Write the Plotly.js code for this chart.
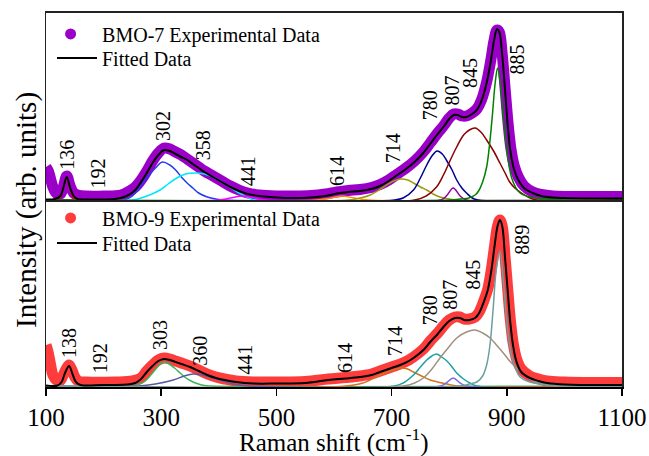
<!DOCTYPE html>
<html><head><meta charset="utf-8">
<script src="https://cdn.plot.ly/plotly-3.0.1.min.js"></script>
<style>html,body{margin:0;padding:0;background:#fff}#chart{width:649px;height:456px}</style>
</head><body><div id="chart"></div>
<script>
// ---------- BMO-7 (top panel) ----------
const bmo7DataX = [100,104,108,112,116,120,125,130,136,142,148,155,170,200,230,245,255,265,275,285,295,305,315,325,335,345,355,365,375,390,405,420,435,450,470,500,530,560,585,605,625,645,665,680,695,710,725,740,755,767,780,790,800,808,815,822,830,840,848,856,865,872,878,883,887,892,897,902,907,913,920,930,945,960,980,1000,1050,1100];
const bmo7DataY = [33,29,21,13,8,6,6,13,24,14,7,5,4,4,5,9,13,20,29,39,47,52,51,48,45,41,37,33,29,24,19,14,10,7,5,4,4,4.5,6,8,9.5,10.5,12.5,15.5,20,26,32,39,48,57,67,74,82,86,86,84,84,87,91,100,118,139,160,170,168,146,112,78,52,34,23,14,8,5.5,4,3.5,3.5,3.5];
const bmo7FitX = [100,115,125,130,136,142,148,155,170,200,220,240,255,265,275,285,295,305,315,325,335,345,355,365,375,390,405,420,435,450,470,500,530,560,585,605,625,645,665,680,695,710,725,740,755,767,780,790,800,808,815,822,830,840,848,856,865,872,878,883,887,892,897,902,907,913,920,930,945,960,980,1000,1050,1100];
const bmo7FitY = [0.5,1,4,12,23,12,4,1,0.5,0.5,1,4,10,18,27,37,45,50,49,46,43,40,36,32,28,23,18,13,9,6,4,2.5,2,2.5,4,6.5,8,9,11,14,19,25,31,38,47,56,66,73,81,85,85,83,83,86,90,99,117,138,160,171,168,145,110,72,46,30,20,12,7,4,2.5,2,1.5,1.5];
const bmo7P136X = [100,120,125,130,136,142,147,152,1100];
const bmo7P136Y = [0,0,3,11,22,11,3,0,0];
const bmo7P302X = [100,235,250,262,275,290,302,315,325,335,345,355,365,380,395,410,1100];
const bmo7P302Y = [0,0,4,12,22,32,38,35,30,23,17,12,7,3,1,0,0];
const bmo7P358X = [100,250,265,280,298,312,327,342,359,375,390,405,419,432,442,452,465,1100];
const bmo7P358Y = [0,0,2,5,10,16,22,26,27,26,23,18,13,8,5,2,0,0];
const bmo7P441X = [100,400,420,441,462,480,1100];
const bmo7P441Y = [0,0,2,4,2,0,0];
const bmo7P614X = [100,570,595,614,635,660,1100];
const bmo7P614Y = [0,0,2,4,2,0,0];
const bmo7P714X = [100,625,645,663,686,700,715,728,738,750,761,772,784,800,815,1100];
const bmo7P714Y = [0,0,2,5,13,18,21,20,17,13,10,6,3,1,0,0];
const bmo7P780X = [100,705,720,738,750,761,770,779,788,795,805,813,822,830,840,850,1100];
const bmo7P780Y = [0,0,2,10,22,35,44,49,46,40,30,20,12,7,2,0,0];
const bmo7P807X = [100,785,795,807,819,830,1100];
const bmo7P807Y = [0,0,4,12,4,0,0];
const bmo7P845X = [100,740,760,778,790,802,813,825,835,845,855,865,877,888,897,905,914,923,937,952,1100];
const bmo7P845Y = [0,0,4,13,25,40,53,65,70,72,68,60,49,37,27,18,12,8,3,0,0];
const bmo7P885X = [100,800,820,834,845,851,858,865,870,875,880,884,889,894,900,904,908,915,923,940,970,1000,1100];
const bmo7P885Y = [0,0,1,2,5,9,18,33,55,85,118,132,115,84,50,34,23,13,7,3,1,0,0];

// ---------- BMO-9 (bottom panel) ----------
const bmo9DataX = [100,104,108,112,118,124,130,135,140,145,150,156,170,220,250,265,275,285,295,305,315,325,335,350,365,380,395,410,430,460,500,550,590,620,645,665,680,700,715,730,745,757,767,780,790,800,810,818,826,835,845,852,860,867,873,879,884,888,892,897,902,906,911,917,925,940,955,970,1000,1050,1100];
const bmo9DataY = [41,33,21,11,6,5,11,17,21,16,9,5,4,4,5,8,15,21,26,28,27,25,23,20,16,12,9,7,5,4,4,4.5,7,8.5,10,12,15,19,22,26,32,38,45,53,60,66,69,69,67,67,69,74,85,97,116,141,160,166,160,129,94,67,43,27,17,10,7,5,4,3.5,3.5];
const bmo9FitX = [100,120,127,133,140,146,152,160,200,240,255,265,275,285,295,305,315,325,335,350,365,380,395,410,430,460,500,550,590,620,645,665,680,700,715,730,745,757,767,780,790,800,810,818,826,835,845,852,860,867,873,879,884,888,892,897,902,906,911,917,925,940,955,970,1000,1100];
const bmo9FitY = [0.5,0.5,4,13,20,12,4,1,1,1.5,3,7,14,20,25,27,26,24,22,19,15,11,8,6,4,2.5,2.5,3,6,7.5,9,11,14,18,21,25,31,37,44,52,59,65,68,68,66,66,68,73,84,96,115,141,160,166,160,128,92,64,40,24,14,8,5,3,1.5,1];
const bmo9P303X = [100,250,262,272,282,292,300,306,314,323,333,343,352,362,375,385,1100];
const bmo9P303Y = [0,0,2,5,11,18,23,24,22,18,13,8,5,2.5,0.5,0,0];
const bmo9P360X = [100,260,290,321,340,356,372,390,408,425,450,1100];
const bmo9P360Y = [0,0,2,6,10,12,11,8,5,2,0,0];
const bmo9P714X = [100,620,650,680,698,715,728,738,752,767,780,796,815,1100];
const bmo9P714Y = [0,0,3,11,15,18,17,14,10,6,4,2,0,0];
const bmo9P780X = [100,705,720,738,750,761,770,778,787,796,805,813,825,836,848,1100];
const bmo9P780Y = [0,0,3,11,19,26,30,32,29,25,19,13,7,3,0,0];
const bmo9P807X = [100,785,795,807,819,830,1100];
const bmo9P807Y = [0,0,3,8,3,0,0];
const bmo9P845X = [100,720,740,755,770,784,798,813,830,845,858,871,882,894,905,917,928,940,955,969,990,1100];
const bmo9P845Y = [0,0,3,8,17,28,38,48,54,56,53,48,41,33,25,18,12,7,3,1,0,0];
const bmo9P889X = [100,820,835,848,858,865,871,876,882,888,894,900,904,908,915,923,940,960,990,1020,1100];
const bmo9P889Y = [0,0,2,4,10,21,42,75,118,135,105,64,45,31,18,9,4,2,1,0,0];

// ---------- labels ----------
const bmo7Labels = ['136','192','302','358','441','614','714','780','807','845','885'];
const bmo7LabelX = [136,191,303,373,451,605,703,767,804,836,917];
const bmo7LabelY = [28,10,57,38,12,12,35,78,92,110,123];
const bmo9Labels = ['138','192','303','360','441','614','714','780','807','845','889'];
const bmo9LabelX = [140,194,298,367,445,619,706,767,801,841,926];
const bmo9LabelY = [26,11,34,18,9,11,28,59,74,94,129];
const xTicks = [100,300,500,700,900,1100];

const FONT = "'Liberation Serif', 'Times New Roman', serif";
const sp = {shape:'spline', smoothing:1};
function comp(x, y, color, ya) {
  return {x:x, y:y, type:'scatter', mode:'lines', xaxis: ya==='y2'?'x2':'x', yaxis:ya,
    line:Object.assign({color:color, width:1.5}, sp), showlegend:false, hoverinfo:'skip'};
}
const traces = [
  // top
  {x:bmo7DataX, y:bmo7DataY, type:'scatter', mode:'lines', xaxis:'x2', yaxis:'y2', line:Object.assign({color:'#9B00C8', width:11}, sp), showlegend:false},
  comp(bmo7P136X, bmo7P136Y, '#E00000', 'y2'),
  comp(bmo7P302X, bmo7P302Y, '#1E3CF0', 'y2'),
  comp(bmo7P358X, bmo7P358Y, '#00E8F8', 'y2'),
  comp(bmo7P441X, bmo7P441Y, '#FF00FF', 'y2'),
  comp(bmo7P614X, bmo7P614Y, '#FF8C00', 'y2'),
  comp(bmo7P714X, bmo7P714Y, '#9A9A10', 'y2'),
  comp(bmo7P780X, bmo7P780Y, '#000090', 'y2'),
  comp(bmo7P807X, bmo7P807Y, '#990099', 'y2'),
  comp(bmo7P845X, bmo7P845Y, '#8B0000', 'y2'),
  comp(bmo7P885X, bmo7P885Y, '#008000', 'y2'),
  {x:bmo7FitX, y:bmo7FitY, type:'scatter', mode:'lines', xaxis:'x2', yaxis:'y2', line:Object.assign({color:'#000', width:2}, sp), showlegend:false},
  {x:[null], y:[null], type:'scatter', mode:'markers', xaxis:'x2', yaxis:'y2', marker:{color:'#9B00C8', size:11}, name:'BMO-7 Experimental Data', legend:'legend'},
  {x:[null], y:[null], type:'scatter', mode:'lines', xaxis:'x2', yaxis:'y2', line:{color:'#000', width:2}, name:'Fitted Data', legend:'legend3'},
  // bottom
  {x:bmo9DataX, y:bmo9DataY, type:'scatter', mode:'lines', xaxis:'x', yaxis:'y', line:Object.assign({color:'#FF3C3C', width:11}, sp), showlegend:false},
  comp(bmo9P303X, bmo9P303Y, '#3CB45A', 'y'),
  comp(bmo9P360X, bmo9P360Y, '#5A5AA0', 'y'),
  comp(bmo9P714X, bmo9P714Y, '#D2731E', 'y'),
  comp(bmo9P780X, bmo9P780Y, '#1EA0A0', 'y'),
  comp(bmo9P807X, bmo9P807Y, '#7B6EE0', 'y'),
  comp(bmo9P845X, bmo9P845Y, '#A09080', 'y'),
  comp(bmo9P889X, bmo9P889Y, '#6E9EA0', 'y'),
  {x:bmo9FitX, y:bmo9FitY, type:'scatter', mode:'lines', xaxis:'x', yaxis:'y', line:Object.assign({color:'#000', width:2}, sp), showlegend:false},
  {x:[null], y:[null], type:'scatter', mode:'markers', xaxis:'x', yaxis:'y', marker:{color:'#FF3C3C', size:11}, name:'BMO-9 Experimental Data', legend:'legend2'},
  {x:[null], y:[null], type:'scatter', mode:'lines', xaxis:'x', yaxis:'y', line:{color:'#000', width:2}, name:'Fitted Data', legend:'legend4'}
];

const annotations = [];
bmo7Labels.forEach((t,i)=>annotations.push({text:t, x:bmo7LabelX[i], y:bmo7LabelY[i], xref:'x2', yref:'y2', textangle:-90, showarrow:false, xanchor:'center', yanchor:'bottom', font:{family:FONT, size:20, color:'#000'}}));
bmo9Labels.forEach((t,i)=>annotations.push({text:t, x:bmo9LabelX[i], y:bmo9LabelY[i], xref:'x', yref:'y', textangle:-90, showarrow:false, xanchor:'center', yanchor:'bottom', font:{family:FONT, size:20, color:'#000'}}));
annotations.push({text:'Intensity (arb. units)', xref:'paper', yref:'paper', x:-0.035, y:0.473, xanchor:'center', yanchor:'middle', textangle:-90, showarrow:false, font:{family:FONT, size:29, color:'#000'}});
annotations.push({text:'Raman shift (cm<sup>-1</sup>)', xref:'paper', yref:'paper', x:0.5, y:-0.143, xanchor:'center', yanchor:'middle', showarrow:false, font:{family:FONT, size:25, color:'#000'}});

const legendBase = {bgcolor:'rgba(0,0,0,0)', font:{family:FONT, size:20, color:'#000'}, yanchor:'middle', xanchor:'left', tracegroupgap:0};
const layout = {
  width:649, height:456,
  margin:{l:46, r:27, t:13, b:69},
  paper_bgcolor:'#fff', plot_bgcolor:'#fff',
  font:{family:FONT, color:'#000'},
  xaxis:{domain:[0,1], anchor:'y', range:[100,1100], tickvals:xTicks, ticktext:xTicks.map(String), ticks:'outside', ticklen:7, tickwidth:1.5, tickcolor:'#000',
    showline:true, linewidth:2, linecolor:'#000', showgrid:false, zeroline:false, tickfont:{family:FONT, size:25, color:'#000'}, automargin:false},
  xaxis2:{domain:[0,1], anchor:'y2', matches:'x', range:[100,1100], showticklabels:false, ticks:'', showline:true, mirror:true, linewidth:2, linecolor:'#222', showgrid:false, zeroline:false},
  yaxis:{domain:[0,0.5], anchor:'x', range:[-1,186], showticklabels:false, ticks:'', showline:true, mirror:true, linewidth:1.5, linecolor:'#222', showgrid:false, zeroline:false},
  yaxis2:{domain:[0.5,1], anchor:'x2', range:[0,187], showticklabels:false, ticks:'', showline:true, mirror:true, linewidth:1.5, linecolor:'#222', showgrid:false, zeroline:false},
  legend:Object.assign({x:-0.012, y:0.944, itemwidth:53}, legendBase),
  legend3:Object.assign({x:0.0104, y:0.880, itemwidth:40}, legendBase),
  legend2:Object.assign({x:-0.012, y:0.452, itemwidth:53}, legendBase),
  legend4:Object.assign({x:0.0104, y:0.385, itemwidth:40}, legendBase),
  annotations:annotations,
  showlegend:true
};
Plotly.newPlot('chart', traces, layout, {staticPlot:true, displayModeBar:false});
</script></body></html>
